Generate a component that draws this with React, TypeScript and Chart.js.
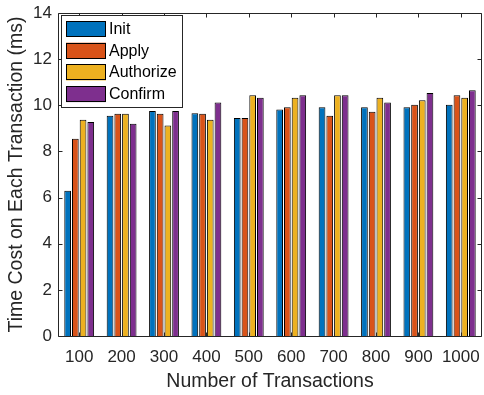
import React, { useEffect, useRef } from "react";
import { Chart, registerables } from "chart.js";
Chart.register(...registerables);

const categories = ["100", "200", "300", "400", "500", "600", "700", "800", "900", "1000"];
const seriesNames = ["Init", "Apply", "Authorize", "Confirm"];
const initValues = [6.3, 9.55, 9.75, 9.65, 9.45, 9.82, 9.92, 9.92, 9.92, 10.02];
const applyValues = [8.55, 9.63, 9.63, 9.63, 9.45, 9.92, 9.55, 9.72, 10.02, 10.43];
const authorizeValues = [9.37, 9.63, 9.12, 9.37, 10.43, 10.33, 10.43, 10.33, 10.22, 10.33];
const confirmValues = [9.28, 9.2, 9.75, 10.12, 10.33, 10.43, 10.43, 10.12, 10.53, 10.65];
const seriesColors = ["#0072BD", "#D95319", "#EDB120", "#7E2F8E"];
const yTicks = [0, 2, 4, 6, 8, 10, 12, 14];

const FONT = "'Liberation Sans', Arial, Helvetica, sans-serif";
const TXT = "#262626";

const boxPlugin = {
  id: "boxPlugin",
  afterDraw(chart: any) {
    const { ctx, chartArea } = chart;
    const { left, right, top, bottom } = chartArea;
    const xs = chart.scales.x;
    const ys = chart.scales.y;
    ctx.save();
    ctx.strokeStyle = "#262626";
    ctx.lineWidth = 1;
    ctx.beginPath();
    const L = Math.round(left) + 0.5, R = Math.round(right) - 0.5, T = Math.round(top) + 0.5, B = Math.round(bottom) + 0.5;
    ctx.rect(L, T, R - L, B - T);
    ctx.stroke();
    const tl = 4;
    ctx.beginPath();
    yTicks.forEach((v) => {
      const y = Math.round(ys.getPixelForValue(v)) + 0.5;
      ctx.moveTo(L, y); ctx.lineTo(L + tl, y);
      ctx.moveTo(R, y); ctx.lineTo(R - tl, y);
    });
    categories.forEach((_, i) => {
      const x = Math.round(xs.getPixelForValue(i)) + 0.5;
      ctx.moveTo(x, T); ctx.lineTo(x, T + tl);
      ctx.moveTo(x, B); ctx.lineTo(x, B - tl);
    });
    ctx.stroke();

    // legend
    const lx = 61.5, ly = 15.5, lw = 121, lh = 92;
    ctx.fillStyle = "#ffffff";
    ctx.fillRect(lx, ly, lw, lh);
    ctx.strokeStyle = "#262626";
    ctx.strokeRect(lx, ly, lw, lh);
    ctx.font = `16px ${FONT}`;
    ctx.textBaseline = "middle";
    ctx.textAlign = "left";
    seriesNames.forEach((name, i) => {
      const sy = 21 + i * 21.7;
      ctx.fillStyle = seriesColors[i];
      ctx.fillRect(66, sy, 40, 16);
      ctx.strokeStyle = "#000000";
      ctx.strokeRect(66.5, Math.round(sy) + 0.5, 39, 15);
      ctx.fillStyle = "#000000";
      ctx.fillText(name, 109, sy + 8.5);
    });
    ctx.restore();
  },
};

export default function App() {
  const ref = useRef<HTMLCanvasElement | null>(null);
  useEffect(() => {
    if (!ref.current) return;
    const allValues = [initValues, applyValues, authorizeValues, confirmValues];
    const chart = new Chart(ref.current, {
      type: "bar",
      data: {
        labels: categories,
        datasets: seriesNames.map((n, i) => ({
          label: n,
          data: allValues[i],
          backgroundColor: seriesColors[i],
          borderColor: "#000000",
          borderWidth: 1,
          categoryPercentage: 0.727,
          barPercentage: 0.87,
        })),
      },
      options: {
        animation: false,
        responsive: false,
        maintainAspectRatio: false,
        layout: { padding: { left: 0, right: 2, top: 13, bottom: 0 } },
        plugins: { legend: { display: false }, tooltip: { enabled: false } },
        scales: {
          x: {
            grid: { display: false, drawTicks: false },
            border: { display: false },
            ticks: { color: TXT, font: { family: FONT, size: 17 }, padding: 11, maxRotation: 0, autoSkip: false },
            title: { display: true, text: "Number of Transactions", color: TXT, font: { family: FONT, size: 19.5 }, padding: { top: 0, bottom: 2 } },
            afterFit: (s: any) => { s.height = 59; s.paddingLeft = 0; s.paddingRight = 0; },
          },
          y: {
            min: 0,
            max: 14,
            grid: { display: false, drawTicks: false },
            border: { display: false },
            ticks: { stepSize: 2, color: TXT, font: { family: FONT, size: 17 }, padding: 6 },
            title: { display: true, text: "Time Cost on Each Transaction (ms)", color: TXT, font: { family: FONT, size: 19.5 }, padding: { top: 5, bottom: 0 } },
            afterFit: (s: any) => { s.width = 58; s.paddingTop = 0; s.paddingBottom = 0; },
          },
        },
      },
      plugins: [boxPlugin],
    });
    return () => chart.destroy();
  }, []);
  return (
    <div style={{ position: "fixed", left: 0, top: 0, width: 484, height: 395, background: "#fff" }}>
      <canvas ref={ref} width={484} height={395} style={{ width: 484, height: 395 }} />
    </div>
  );
}
